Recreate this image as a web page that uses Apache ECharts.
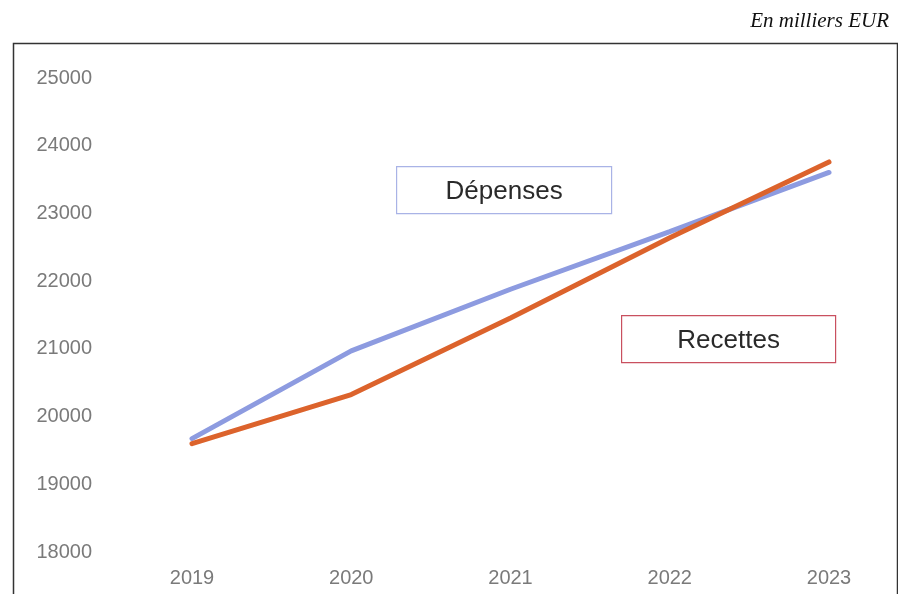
<!DOCTYPE html>
<html>
<head>
<meta charset="utf-8">
<script src="https://cdn.jsdelivr.net/npm/echarts@6/dist/echarts.min.js"></script>
<style>
html,body{margin:0;padding:0;background:#fff;}
#c{width:898px;height:594px;}
</style>
</head>
<body>
<div id="c"></div>
<script>
const years = ['2019', '2020', '2021', '2022', '2023'];
const depenses = [19675, 20970, 21880, 22730, 23605];
const recettes = [19600, 20325, 21455, 22640, 23760];
const yMin = 18000, yMax = 25000, yStep = 1000;
const unitLabel = 'En milliers EUR';
const depLabel = 'Dépenses';
const recLabel = 'Recettes';

const chart = echarts.init(document.getElementById('c'));
chart.setOption({
  animation: false,
  backgroundColor: '#fff',
  title: {
    text: unitLabel,
    right: 4, top: 6,
    textStyle: {fontFamily: 'Liberation Serif', fontStyle: 'italic', fontWeight: 'normal', fontSize: 21, color: '#111'}
  },
  grid: {left: 192, right: 69, top: 78, bottom: 42, containLabel: false},
  xAxis: {
    type: 'category', data: years, boundaryGap: false,
    axisLine: {show: false}, axisTick: {show: false}, splitLine: {show: false},
    axisLabel: {margin: 16, fontFamily: 'Liberation Sans', fontSize: 20, color: '#7a7a7a'}
  },
  yAxis: {
    type: 'value', min: yMin, max: yMax, interval: yStep,
    axisLine: {show: false}, axisTick: {show: false}, splitLine: {show: false},
    axisLabel: {margin: 100, fontFamily: 'Liberation Sans', fontSize: 20, color: '#7a7a7a',
      formatter: v => String(v)}
  },
  series: [
    {name: depLabel, type: 'line', data: depenses, symbol: 'none', z: 2,
     lineStyle: {color: '#8d9be0', width: 5, cap: 'round'}},
    {name: recLabel, type: 'line', data: recettes, symbol: 'none', z: 3,
     lineStyle: {color: '#dc632c', width: 5, cap: 'round'}}
  ],
  graphic: [
    {type: 'rect', left: 11, top: 41, shape: {width: 884, height: 600},
     style: {fill: null, stroke: '#333', lineWidth: 1.5}, silent: true},
    {type: 'group', left: 396, top: 166, children: [
      {type: 'rect', shape: {x: 0, y: 0, width: 215, height: 47},
       style: {fill: '#fff', stroke: '#a9b3e6', lineWidth: 1.2}},
      {type: 'text', x: 107.5, y: 25,
       style: {text: depLabel, align: 'center', verticalAlign: 'middle', fontFamily: 'Liberation Sans', fontSize: 26, fill: '#2a2a2a'}}
    ]},
    {type: 'group', left: 621, top: 315, children: [
      {type: 'rect', shape: {x: 0, y: 0, width: 214, height: 47},
       style: {fill: '#fff', stroke: '#c9505f', lineWidth: 1.2}},
      {type: 'text', x: 107, y: 25,
       style: {text: recLabel, align: 'center', verticalAlign: 'middle', fontFamily: 'Liberation Sans', fontSize: 26, fill: '#2a2a2a'}}
    ]}
  ]
});
</script>
</body>
</html>
